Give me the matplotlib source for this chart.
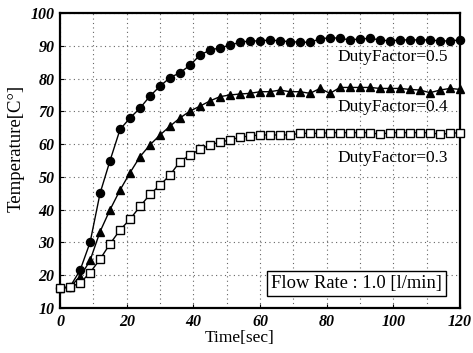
import matplotlib
matplotlib.use('Agg')
import matplotlib.pyplot as plt
from matplotlib.ticker import MultipleLocator

plt.rcParams['font.family'] = ['Liberation Serif', 'DejaVu Serif']

# ─── Data ───
time_sec = list(range(0, 121, 3))

temp_df05 = [16, 16.5, 21.5, 30, 45, 55, 64.5, 68, 71, 74.7, 77.7, 80.3, 81.8, 84.1,
             87.2, 88.7, 89.4, 90.2, 91.1, 91.5, 91.5, 91.8, 91.5, 91.3, 91.1, 91.1,
             92.1, 92.5, 92.3, 91.8, 92.1, 92.3, 91.8, 91.5, 91.8, 91.8, 91.8, 91.8,
             91.5, 91.5, 91.8]

temp_df04 = [16, 16.5, 19.5, 24.5, 33.3, 40, 46, 51.3, 56.2, 59.8, 62.8, 65.5, 68, 70.1,
             71.6, 73.2, 74.5, 75, 75.3, 75.5, 76, 76, 76.5, 76, 76, 75.5,
             77, 75.5, 77.3, 77.3, 77.3, 77.3, 77, 77, 77, 76.7, 76.5, 75.7,
             76.5, 77, 76.7]

temp_df03 = [16, 16.4, 17.6, 20.8, 24.9, 29.6, 33.8, 37.1, 41, 44.7, 47.5, 50.6, 54.7, 56.7,
             58.4, 59.8, 60.6, 61.3, 62.1, 62.5, 62.8, 62.8, 62.8, 62.8, 63.3, 63.3,
             63.3, 63.5, 63.5, 63.5, 63.5, 63.5, 63, 63.5, 63.5, 63.5, 63.5, 63.5,
             63, 63.3, 63.5]

series_labels = ["DutyFactor=0.5", "DutyFactor=0.4", "DutyFactor=0.3"]
x_ticks = [0, 20, 40, 60, 80, 100, 120]
y_ticks = [10, 20, 30, 40, 50, 60, 70, 80, 90, 100]

# ─── Figure ───
fig = plt.figure(figsize=(4.73, 3.53), dpi=100)
ax = fig.add_axes([0.127, 0.1275, 0.8455, 0.8355])

ax.plot(time_sec, temp_df05, color='black', lw=1.0, marker='o', ms=5.8,
        mfc='black', mec='black', zorder=4, clip_on=False)
ax.plot(time_sec, temp_df04, color='black', lw=1.0, marker='^', ms=6,
        mfc='black', mec='black', zorder=4, clip_on=False)
ax.plot(time_sec, temp_df03, color='black', lw=1.0, marker='s', ms=5.2,
        mfc='white', mec='black', mew=1.0, zorder=4, clip_on=False)

ax.set_xlim(0, 120)
ax.set_ylim(10, 100)
ax.set_xticks(x_ticks)
ax.set_yticks(y_ticks)
ax.xaxis.set_minor_locator(MultipleLocator(10))

ax.grid(True, which='both', color='0.4', linestyle=(0, (1, 3)), lw=0.8)
ax.tick_params(which='both', direction='in', length=3, width=0.8, pad=4)
ax.tick_params(which='minor', length=0)

for lbl in ax.get_xticklabels() + ax.get_yticklabels():
    lbl.set_fontweight('bold')
    lbl.set_fontstyle('italic')
    lbl.set_fontsize(11.5)

for side in ax.spines.values():
    side.set_linewidth(1.6)

# series labels
ax.text(116.5, 86.6, series_labels[0], ha='right', va='center', fontsize=12.5)
ax.text(116.5, 71.4, series_labels[1], ha='right', va='center', fontsize=12.5)
ax.text(116.5, 55.8, series_labels[2], ha='right', va='center', fontsize=12.5)

ax.text(88.8, 17.4, "Flow Rate : 1.0 [l/min]", ha='center', va='center', fontsize=13.3,
        bbox=dict(boxstyle='square,pad=0.22', facecolor='white', edgecolor='black', lw=1.0),
        zorder=5)

ax.set_xlabel("Time[sec]", fontsize=12.5)
ax.set_ylabel("Temperature[C°]", fontsize=13.5)
ax.xaxis.set_label_coords(0.448, -0.075)
ax.yaxis.set_label_coords(-0.088, 0.542)

fig.savefig("out.png", dpi=100, facecolor='white')
